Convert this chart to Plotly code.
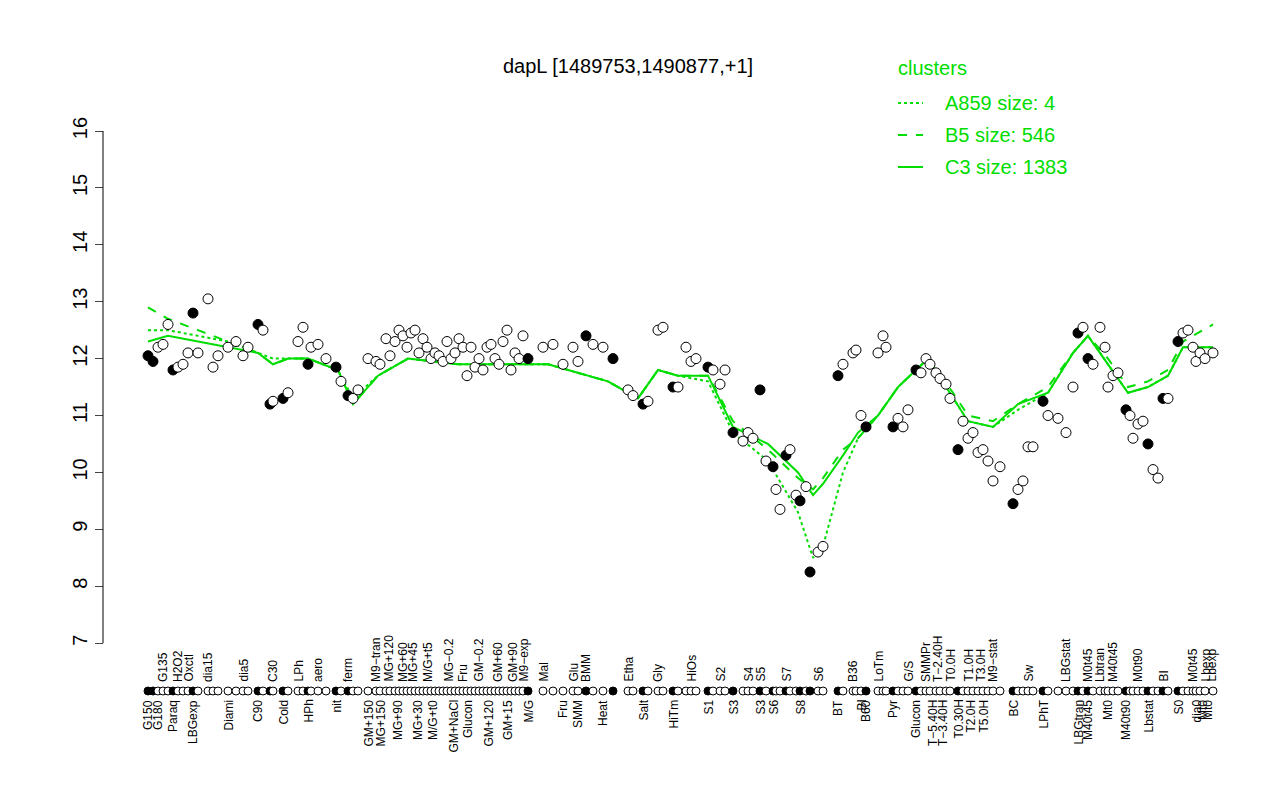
import plotly.graph_objects as go

# point positions (condition axis) and expression values
xs = [140,145,150,155,160,165,170,175,180,185,190,200,205,210,220,228,235,240,250,255,262,265,275,280,
      290,295,300,303,310,318,328,333,340,345,350,360,368,372,378,382,
      387,391,395,399,403,407,411,415,419,423,427,431,435,439,443,447,451,455,459,463,467,471,475,479,483,487,491,495,499,503,507,511,515,
      520,535,545,555,565,570,578,585,595,605,620,625,635,640,650,655,665,670,678,683,688,700,705,712,717,
      725,735,740,745,752,758,765,768,772,778,782,788,792,798,802,810,815,830,835,845,848,853,858,
      870,875,878,885,890,895,900,908,913,918,922,928,932,938,942,950,955,960,965,970,975,980,985,992,
      1005,1010,1015,1020,1025,1035,1040,1050,1058,1065,1070,1075,1080,1085,1092,1097,1100,1105,1110,
      1118,1122,1125,1130,1135,1140,1145,1150,1155,1160,1170,1175,1180,1185,1188,1192,1197,1205]
vals = [12.05,11.95,12.2,12.25,12.6,11.8,11.85,11.9,12.1,12.8,12.1,13.05,11.85,12.05,12.2,12.3,12.05,12.2,12.6,12.5,11.2,11.25,11.3,11.4,
        12.3,12.55,11.9,12.2,12.25,12.0,11.85,11.6,11.35,11.3,11.45,12.0,11.95,11.9,12.35,12.05,
        12.3,12.5,12.4,12.2,12.45,12.5,12.1,12.35,12.2,12.0,12.1,12.05,11.95,12.3,12.0,12.1,12.35,12.2,11.7,12.2,11.85,12.0,11.8,12.2,12.25,12.0,11.9,12.3,12.5,11.8,12.1,12.0,12.4,
        12.0,12.2,12.25,11.9,12.2,11.95,12.4,12.25,12.2,12.0,11.45,11.35,11.2,11.25,12.5,12.55,11.5,11.5,12.2,11.95,12.0,11.85,11.8,11.55,11.8,
        10.7,10.55,10.7,10.6,11.45,10.2,10.1,9.7,9.35,10.3,10.4,9.6,9.5,9.75,8.25,8.6,8.7,11.7,11.9,12.1,12.15,11.0,10.8,
        12.1,12.4,12.2,10.8,10.95,10.8,11.1,11.8,11.75,12.0,11.9,11.75,11.65,11.55,11.3,10.4,10.9,10.6,10.7,10.35,10.4,10.2,9.85,10.1,
        9.45,9.7,9.85,10.45,10.45,11.25,11.0,10.95,10.7,11.5,12.45,12.55,12.0,11.9,12.55,12.2,11.5,11.7,11.75,
        11.1,11.0,10.6,10.85,10.9,10.5,10.05,9.9,11.3,11.3,12.3,12.45,12.5,12.2,11.95,12.1,12.0,12.1]
filled = [x in (140,145,165,185,250,262,275,300,328,340,520,578,605,635,665,700,725,752,765,778,792,802,830,858,885,908,
                950,1005,1035,1070,1080,1118,1140,1155,1170) for x in xs]

# cluster centroid lines
line_x = [140,160,190,220,250,265,280,300,330,345,370,400,450,500,540,600,630,650,670,700,725,760,790,805,815,
          835,850,870,890,920,945,960,985,1010,1040,1065,1080,1100,1120,1140,1160,1175,1205]
c3   = [12.3,12.4,12.3,12.2,12.1,11.9,12.0,12.0,11.8,11.2,11.7,12.0,11.9,11.9,11.9,11.6,11.3,11.8,11.7,11.7,10.8,10.5,10.0,9.6,9.8,
        10.3,10.7,11.0,11.5,12.0,11.3,10.9,10.8,11.2,11.4,12.1,12.4,11.9,11.4,11.5,11.7,12.2,12.2]
b5   = [12.9,12.7,12.5,12.3,12.1,11.9,12.0,12.0,11.8,11.2,11.7,12.0,11.9,11.9,11.9,11.6,11.3,11.8,11.7,11.7,10.9,10.4,9.9,9.7,9.9,
        10.4,10.6,11.0,11.5,12.0,11.4,11.0,10.9,11.2,11.5,12.1,12.4,12.0,11.5,11.6,11.8,12.3,12.6]
a859 = [12.5,12.5,12.4,12.3,12.1,12.0,12.0,12.0,11.8,11.3,11.7,12.0,11.9,11.9,11.9,11.6,11.3,11.8,11.7,11.6,10.7,10.2,9.3,8.5,8.7,
        10.0,10.6,11.0,11.5,12.0,11.3,10.9,10.8,11.1,11.4,12.1,12.4,11.9,11.4,11.5,11.7,12.2,12.2]

top_labels = [(155,"G135"),(170,"H2O2"),(180,"Oxctl"),(200,"dia15"),(235,"dia5"),(265,"C30"),(290,"LPh"),(310,"aero"),
              (340,"ferm"),(368,"M9−tran"),(380,"MG+120"),(395,"MG+60"),(405,"MG+45"),(420,"M/G+t5"),(440,"MG−0.2"),
              (455,"Fru"),(470,"GM−0.2"),(490,"GM+60"),(505,"GM+90"),(515,"M9−exp"),(535,"Mal"),(565,"Glu"),(578,"BMM"),
              (620,"Etha"),(650,"Gly"),(683,"HiOs"),(712,"S2"),(740,"S4"),(752,"S5"),(778,"S7"),(810,"S6"),(845,"B36"),
              (870,"LoTm"),(900,"G/S"),(918,"SMMPr"),(930,"T−2.40H"),(942,"T0.0H"),(960,"T1.0H"),(972,"T3.0H"),
              (985,"M9−stat"),(1020,"Sw"),(1058,"LBGstat"),(1080,"M0t45"),(1092,"Lbtran"),(1105,"M40t45"),
              (1130,"M0t90"),(1155,"BI"),(1185,"M0t45"),(1197,"Lbexp"),(1203,"Lbexp")]
bot_labels = [(140,"G150"),(150,"G180"),(165,"Paraq"),(185,"LBGexp"),(220,"Diami"),(250,"C90"),(275,"Cold"),(300,"HPh"),
              (328,"nit"),(360,"GM+150"),(372,"MG+150"),(390,"MG+90"),(410,"MG+30"),(425,"M/G+t0"),(445,"GM+NaCl"),
              (460,"Glucon"),(480,"GM+120"),(500,"GM+15"),(520,"M/G"),(555,"Fru"),(570,"SMM"),(595,"Heat"),(635,"Salt"),
              (665,"HiTm"),(700,"S1"),(725,"S3"),(752,"S3"),(765,"S6"),(792,"S8"),(830,"BT"),(853,"BI"),(858,"B60"),
              (885,"Pyr"),(908,"Glucon"),(925,"T−5.40H"),(935,"T−3.40H"),(950,"T0.30H"),(962,"T2.0H"),(975,"T5.0H"),
              (1005,"BC"),(1035,"LPhT"),(1070,"LBGtran"),(1080,"M40t45"),(1100,"Mt0"),(1118,"M40t90"),(1140,"Lbstat"),
              (1170,"S0"),(1188,"dia0"),(1195,"Mt0"),(1200,"Mt0")]

G = "#00dd00"
fig = go.Figure()
fig.add_trace(go.Scatter(x=line_x, y=a859, mode="lines", line=dict(color=G, width=2, dash="dot")))
fig.add_trace(go.Scatter(x=line_x, y=b5, mode="lines", line=dict(color=G, width=2, dash="dash")))
fig.add_trace(go.Scatter(x=line_x, y=c3, mode="lines", line=dict(color=G, width=2)))
fig.add_trace(go.Scatter(x=xs, y=vals, mode="markers",
    marker=dict(size=10, color=["black" if f else "white" for f in filled], line=dict(color="black", width=1))))
fig.add_trace(go.Scatter(x=xs, y=[97]*len(xs), yaxis="y2", mode="markers",
    marker=dict(size=8, color=["black" if f else "white" for f in filled], line=dict(color="black", width=1))))

for x, t in top_labels:
    fig.add_annotation(x=x, y=104, xref="x", yref="y2", text=t, textangle=-90, showarrow=False,
                       yanchor="bottom", xanchor="center", font=dict(size=12, color="black"))
for x, t in bot_labels:
    fig.add_annotation(x=x, y=90, xref="x", yref="y2", text=t, textangle=-90, showarrow=False,
                       yanchor="top", xanchor="center", font=dict(size=12, color="black"))

def py(p):  # pixel y -> paper
    return (780 - p) / 680
fig.add_annotation(x=620, y=py(58), xref="x", yref="paper", text="dapL [1489753,1490877,+1]",
                   yanchor="middle", showarrow=False, font=dict(size=20, color="black"))
fig.add_annotation(x=888, y=py(60), xref="x", yref="paper", text="clusters", xanchor="left",
                   yanchor="middle", showarrow=False, font=dict(size=20, color=G))
for i, (t, d) in enumerate([("A859 size: 4", "dot"), ("B5 size: 546", "dash"), ("C3 size: 1383", "solid")]):
    yy = 95 + 32 * i
    fig.add_shape(type="line", x0=890, x1=915, y0=py(yy), y1=py(yy), xref="x", yref="paper",
                  line=dict(color=G, width=2, dash=d))
    fig.add_annotation(x=935, y=py(yy), xref="x", yref="paper", text=t, xanchor="left",
                       yanchor="middle", showarrow=False, font=dict(size=20, color=G))

top = 16 + 23/56.9
fig.update_layout(
    width=1280, height=800, plot_bgcolor="white", paper_bgcolor="white", showlegend=False,
    margin=dict(l=0, r=0, t=100, b=20),
    font=dict(family="Liberation Sans, Arial", color="black"),
    xaxis=dict(range=[0, 1280], visible=False),
    yaxis=dict(domain=[135/680, 1], range=[top - 545/56.9, top], autorange=False,
               showgrid=False, zeroline=False, tickvals=list(range(7, 17)),
               ticks="outside", ticklen=8, tickangle=-90, tickfont=dict(size=20),
               showline=False, anchor="free", position=95/1280),
    yaxis2=dict(domain=[0, 129/680], range=[0, 129], visible=False),
)
fig.add_shape(type="line", x0=95, x1=95, y0=7, y1=16, xref="x", yref="y", line=dict(color="black", width=1))
fig.write_html("out.html")
